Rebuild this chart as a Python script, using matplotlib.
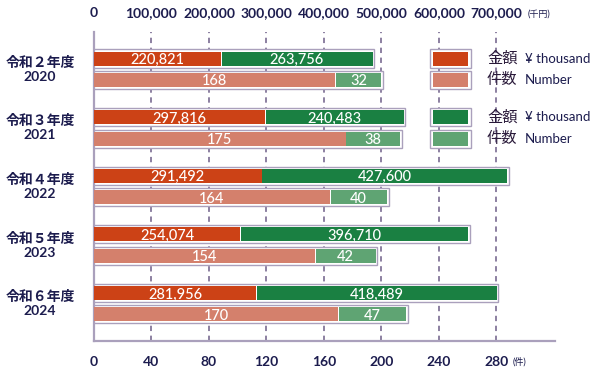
import matplotlib
matplotlib.use("Agg")
import matplotlib.pyplot as plt
from matplotlib.patches import Rectangle

plt.rcParams['font.family'] = ['Lato', 'Noto Sans CJK JP', 'DejaVu Sans']

# data
years = ['令和２年度\n2020', '令和３年度\n2021', '令和４年度\n2022', '令和５年度\n2023', '令和６年度\n2024']
amount_a = [220821, 297816, 291492, 254074, 281956]   # 金額 (red)
amount_b = [263756, 240483, 427600, 396710, 418489]   # 金額 (green)
count_a = [168, 175, 164, 154, 170]                    # 件数 (salmon)
count_b = [32, 38, 40, 42, 47]                         # 件数 (light green)
count_ticks = [0, 40, 80, 120, 160, 200, 240, 280]
amount_ticks = [0, 100000, 200000, 300000, 400000, 500000, 600000, 700000]

RED = '#cc4216'
GREEN = '#1a8042'
SALMON = '#d4806c'
LGREEN = '#5fa473'
OUTLINE = '#aaa0bc'
GRID = '#6e5e88'
NAVY = '#1c1c4e'

SCALE = 2500.0  # yen(thousand) per count unit on the shared axis
OFF = 0.183
BAR_H = 0.24
PAD = 0.035

fig = plt.figure(figsize=(6, 3.8), dpi=100)
ax = fig.add_axes([94 / 600, 1 - 341 / 380, (555 - 94) / 600, (341 - 32) / 380])
ax.set_xlim(0, 320.7)
ax.set_ylim(4.637, -0.636)

for t in count_ticks[1:]:
    ax.axvline(t, color=GRID, lw=1.1, ls=(0, (3.5, 3)), zorder=1)


def draw_stack(y, a, b, ca, cb, label_a, label_b):
    total = a + b
    ax.add_patch(Rectangle((-1, y - BAR_H / 2 - PAD), total + 2.2, BAR_H + 2 * PAD,
                           facecolor='white', edgecolor=OUTLINE, lw=1.0, zorder=2))
    ax.add_patch(Rectangle((0, y - BAR_H / 2), a, BAR_H, facecolor=ca, lw=0, zorder=3))
    ax.add_patch(Rectangle((a + 0.6, y - BAR_H / 2), b - 0.6, BAR_H, facecolor=cb, lw=0, zorder=3))
    for x, s in [(a / 2, label_a), (a + b / 2, label_b)]:
        ax.annotate(s, (x, y), color='white', ha='center', va='center_baseline',
                    fontsize=10.5, fontweight='medium', zorder=5)


for i in range(len(years)):
    draw_stack(i - OFF, amount_a[i] / SCALE, amount_b[i] / SCALE, RED, GREEN,
               f'{amount_a[i]:,}', f'{amount_b[i]:,}')
    draw_stack(i + OFF, count_a[i], count_b[i], SALMON, LGREEN,
               str(count_a[i]), str(count_b[i]))
    ax.text(-37.5, i, years[i], ha='center', va='center', fontsize=10,
            fontweight='bold', color=NAVY, linespacing=1.2)

# legend boxes
legend_rows = [(-OFF, RED, '金額', '¥ thousand'), (OFF, SALMON, '件数', 'Number'),
               (1 - OFF, GREEN, '金額', '¥ thousand'), (1 + OFF, LGREEN, '件数', 'Number')]
for y, c, jp, en in legend_rows:
    ax.add_patch(Rectangle((233.7, y - BAR_H / 2 - PAD), 28.6, BAR_H + 2 * PAD,
                           facecolor='white', edgecolor=OUTLINE, lw=1.0, zorder=2))
    ax.add_patch(Rectangle((235.8, y - BAR_H / 2), 24.4, BAR_H, facecolor=c, lw=0, zorder=3))
    ax.text(273.4, y, jp, ha='left', va='center', fontsize=11, color='#2a1a3a', zorder=4)
    ax.text(299.8, y, en, ha='left', va='center', fontsize=9.5, color=NAVY, zorder=4)

for s in ['top', 'right']:
    ax.spines[s].set_visible(False)
for s in ['left', 'bottom']:
    ax.spines[s].set_color(OUTLINE)
    ax.spines[s].set_linewidth(1.6)
ax.set_yticks([])
ax.set_xticks(count_ticks)
ax.set_xticklabels([str(t) for t in count_ticks])
ax.tick_params(axis='x', length=0, pad=11, labelsize=10, labelcolor=NAVY)
for lab in ax.get_xticklabels():
    lab.set_fontweight('bold')

top = ax.secondary_xaxis('top', functions=(lambda x: x * SCALE, lambda x: x / SCALE))
top.set_xticks(amount_ticks)
top.set_xticklabels([f'{t:,}' for t in amount_ticks])
top.tick_params(length=0, pad=9, labelsize=10, labelcolor=NAVY)
top.spines['top'].set_visible(False)
for lab in top.get_xticklabels():
    lab.set_fontweight('bold')

fig.text(528 / 600, 1 - 14 / 380, '(千円)', fontsize=6.5, color=NAVY, va='center', ha='left')
fig.text(513 / 600, 1 - 362 / 380, '(件)', fontsize=6.5, color=NAVY, va='center', ha='left')

fig.savefig('out.png', dpi=100)
